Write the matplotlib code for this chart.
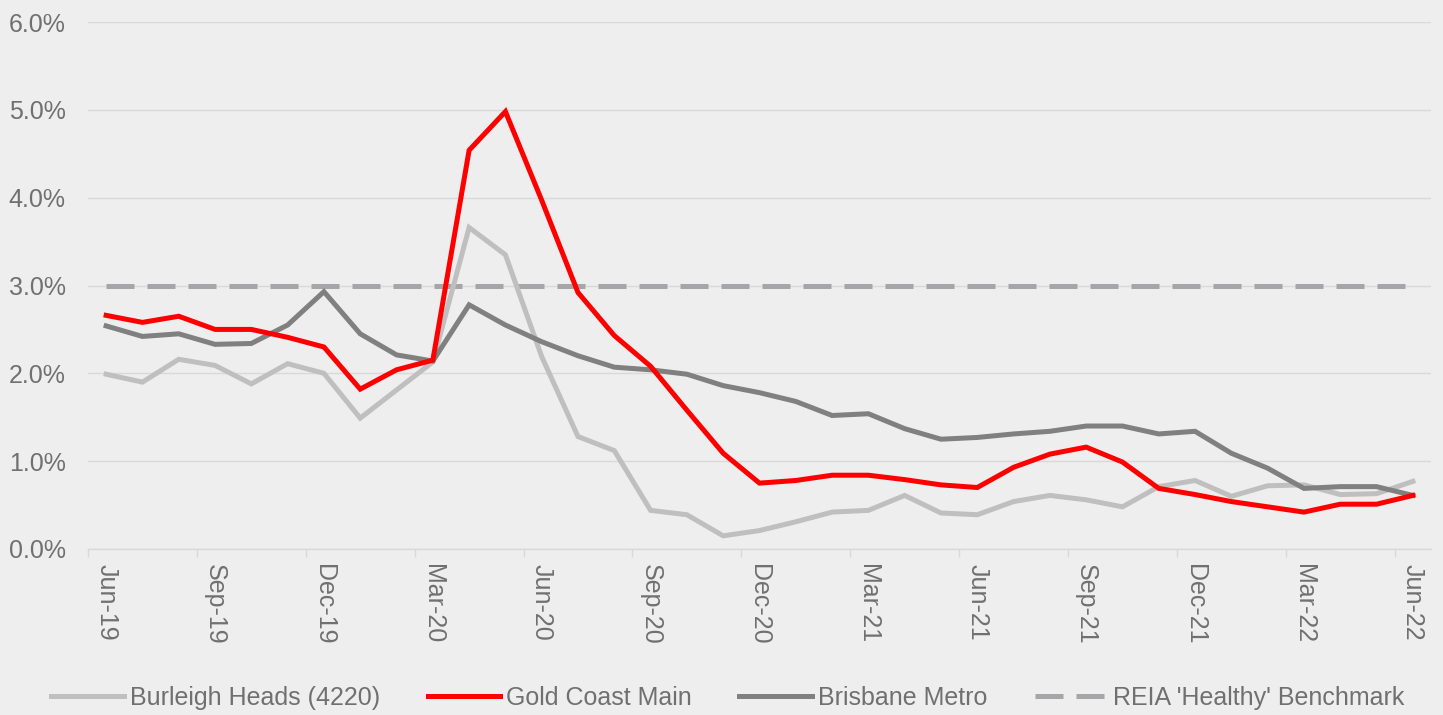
import matplotlib
matplotlib.use("Agg")
import matplotlib.pyplot as plt
from matplotlib.lines import Line2D

months = ["Jun-19", "Jul-19", "Aug-19", "Sep-19", "Oct-19", "Nov-19", "Dec-19",
          "Jan-20", "Feb-20", "Mar-20", "Apr-20", "May-20", "Jun-20", "Jul-20",
          "Aug-20", "Sep-20", "Oct-20", "Nov-20", "Dec-20", "Jan-21", "Feb-21",
          "Mar-21", "Apr-21", "May-21", "Jun-21", "Jul-21", "Aug-21", "Sep-21",
          "Oct-21", "Nov-21", "Dec-21", "Jan-22", "Feb-22", "Mar-22", "Apr-22",
          "May-22", "Jun-22"]

burleigh = [1.99, 1.90, 2.16, 2.09, 1.88, 2.11, 2.00, 1.49, 1.81, 2.13,
            3.66, 3.35, 2.19, 1.28, 1.12, 0.44, 0.39, 0.15, 0.21, 0.31,
            0.42, 0.44, 0.61, 0.41, 0.39, 0.54, 0.61, 0.56, 0.48, 0.71,
            0.78, 0.60, 0.72, 0.73, 0.62, 0.63, 0.77]
gold_coast = [2.66, 2.58, 2.65, 2.50, 2.50, 2.41, 2.30, 1.82, 2.04, 2.15,
              4.54, 4.98, 3.97, 2.92, 2.43, 2.08, 1.58, 1.09, 0.75, 0.78,
              0.84, 0.84, 0.79, 0.73, 0.70, 0.93, 1.08, 1.16, 0.99, 0.69,
              0.62, 0.54, 0.48, 0.42, 0.51, 0.51, 0.61]
brisbane = [2.54, 2.42, 2.45, 2.33, 2.34, 2.55, 2.93, 2.45, 2.21, 2.14,
            2.78, 2.55, 2.36, 2.20, 2.07, 2.04, 1.99, 1.86, 1.78, 1.68,
            1.52, 1.54, 1.37, 1.25, 1.27, 1.31, 1.34, 1.40, 1.40, 1.31,
            1.34, 1.09, 0.92, 0.69, 0.71, 0.71, 0.61]
benchmark = [3.0] * len(months)

series_names = ["Burleigh Heads (4220)", "Gold Coast Main", "Brisbane Metro",
                "REIA 'Healthy' Benchmark"]
y_ticks = [0, 1, 2, 3, 4, 5, 6]

FONT = "Liberation Sans"
FS = 18
TXT = "#707070"
BG = "#eeeeee"
DASH = (5.6, 2.6)

fig = plt.figure(figsize=(14.43, 7.15), dpi=100, facecolor=BG)
ax = fig.add_axes([88 / 1443, 1 - 549 / 715, (1431 - 88) / 1443, (549 - 22) / 715])
ax.set_facecolor(BG)

x = list(range(len(months)))
lw = 3.6
ax.plot(x, benchmark, color="#a6a6a8", lw=lw, dashes=DASH, zorder=2)
ax.plot(x, burleigh, color="#bfbfbf", lw=lw, zorder=3, solid_joinstyle="miter")
ax.plot(x, brisbane, color="#808080", lw=lw, zorder=4, solid_joinstyle="miter")
ax.plot(x, gold_coast, color="#ff0000", lw=lw, zorder=5, solid_joinstyle="miter")

ax.set_xlim(-0.5, len(months) - 0.5)
ax.set_ylim(0, 6)
ax.set_yticks(y_ticks)
ax.set_yticklabels([f"{v:.1f}%" for v in y_ticks], fontfamily=FONT, fontsize=FS, color=TXT)
ax.yaxis.grid(True, color="#d9d9d9", lw=1)
ax.set_axisbelow(True)

major = list(range(0, len(months), 3))
ax.set_xticks(major)
ax.set_xticklabels([months[i] for i in major], rotation=-90, fontfamily=FONT,
                   fontsize=FS, color=TXT, va="top", ha="center")
ax.set_xticks([i - 0.5 for i in range(0, len(months) + 1, 3)], minor=True)
ax.tick_params(axis="x", which="major", length=0, pad=11)
ax.tick_params(axis="x", which="minor", length=6, color="#d9d9d9", width=1)
ax.tick_params(axis="y", length=0, pad=16)

for s in ["top", "right", "left"]:
    ax.spines[s].set_visible(False)
ax.spines["bottom"].set_color("#d9d9d9")
ax.spines["bottom"].set_linewidth(1)

handles = [
    Line2D([], [], color="#bfbfbf", lw=lw),
    Line2D([], [], color="#ff0000", lw=lw),
    Line2D([], [], color="#808080", lw=lw),
    Line2D([], [], color="#a6a6a8", lw=lw, dashes=DASH),
]
leg = fig.legend(handles, series_names, loc="center", bbox_to_anchor=(728 / 1443, 1 - 698 / 715),
                 ncol=4, frameon=False, handlelength=2.9, handletextpad=0.24, columnspacing=1.9,
                 prop={"family": FONT, "size": FS})
for t in leg.get_texts():
    t.set_color(TXT)

fig.savefig("out.png", dpi=100, facecolor=BG)
